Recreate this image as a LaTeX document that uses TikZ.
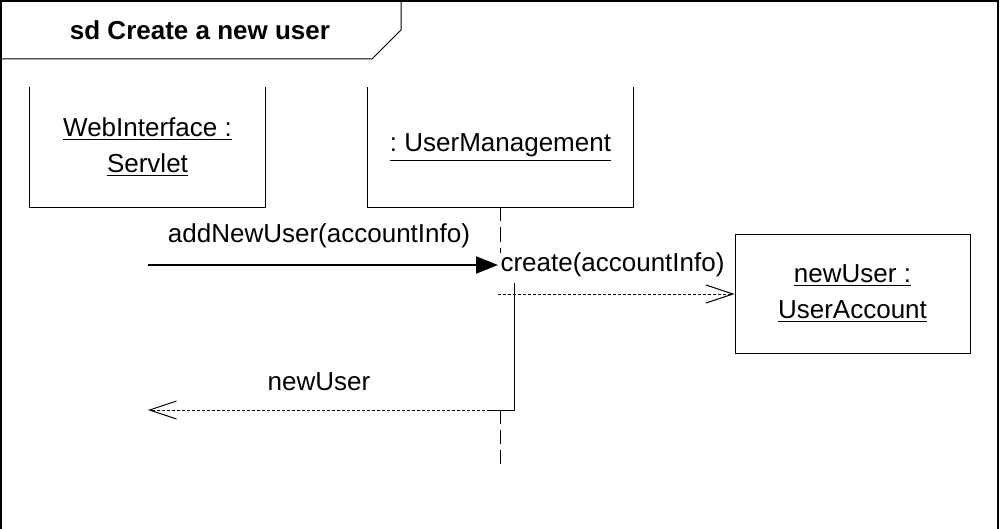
\documentclass[tikz,border=0pt]{standalone}
\usepackage{fontspec}
\setmainfont{Liberation Sans}
\usetikzlibrary{arrows.meta}
\frenchspacing
\newcommand{\obj}[1]{\underline{#1}}

\begin{document}
\begin{tikzpicture}[
  x=0.5pt, y=-0.5pt,
  line width=0.5pt,
  font=\fontsize{13}{16}\selectfont,
  head/.style={minimum width=117.5pt, minimum height=59.5pt, inner sep=0pt, align=center},
  lifeline/.style={dash pattern=on 7pt off 3pt},
  call/.style={line width=1pt, -{Triangle[length=11pt, width=8.5pt]}},
  reply/.style={dash pattern=on 1.5pt off 1pt, -{Straight Barb[length=13.5pt, width=9pt]}},
  msg/.style={inner sep=0pt}
]
  \useasboundingbox (0,0) rectangle (1000,529);

  % Frame and title
  \draw[line width=1pt] (1,529) -- (1,1) -- (998,1) -- (998,529);
  \draw (1,59) -- (372,59) -- (401,30) -- (401,1);
  \node[font=\fontsize{13}{16}\selectfont\bfseries] (title) at (200,30) {sd Create a new user};

  % Lifeline heads
  \node[head] (web) at (147.5,147.5) {\obj{WebInterface :}\\[2pt]\obj{Servlet}};
  \node[head, minimum width=132.5pt] (um) at (500.5,147.5) {\obj{: UserManagement}};
  \draw (web.north west) -- (web.south west) -- (web.south east) -- (web.north east);
  \draw (um.north west) -- (um.south west) -- (um.south east) -- (um.north east);
  \node[head, draw, minimum height=59pt] (nu) at (852.5,294) {\obj{newUser :}\\[2pt]\obj{UserAccount}};

  % Lifeline of UserManagement
  \coordinate (ll1) at (500,253);
  \coordinate (ll2) at (500,410);
  \coordinate (ll3) at (500,470);
  \draw[lifeline] (um.south -| ll1) -- (ll1);
  \draw[lifeline] (ll2) -- (ll3);

  % Messages
  \coordinate (start) at (148,265);
  \coordinate (hit) at (498,265);
  \draw[call] (start) -- (hit);
  \node[msg] (m1) at (319,236) {addNewUser(accountInfo)};

  \coordinate (cr) at (498,294);
  \draw[reply] (cr) -- (nu.west);
  \node[msg, anchor=west] (m2) at (500,265) {create(accountInfo)};

  % Activation and return
  \coordinate (act1) at (514,283);
  \coordinate (act2) at (514,410);
  \coordinate (act3) at (490,410);
  \coordinate (back) at (148,410);
  \draw (act1) -- (act2) -- (act3);
  \draw[reply] (act3) -- (back);
  \node[msg] (m3) at (319,382) {newUser};
\end{tikzpicture}
\end{document}
